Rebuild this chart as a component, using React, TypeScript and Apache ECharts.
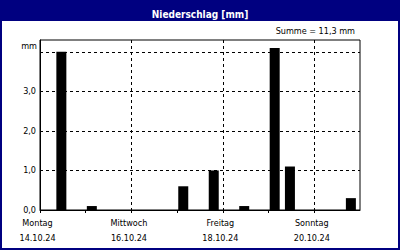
import React, { useEffect, useRef } from "react";
import * as echarts from "echarts";

// 8-hour slots, 3 per day, 14.10.24 – 20.10.24
const slots: string[] = [
  "14.10. 00-08", "14.10. 08-16", "14.10. 16-24",
  "15.10. 00-08", "15.10. 08-16", "15.10. 16-24",
  "16.10. 00-08", "16.10. 08-16", "16.10. 16-24",
  "17.10. 00-08", "17.10. 08-16", "17.10. 16-24",
  "18.10. 00-08", "18.10. 08-16", "18.10. 16-24",
  "19.10. 00-08", "19.10. 08-16", "19.10. 16-24",
  "20.10. 00-08", "20.10. 08-16", "20.10. 16-24",
];
const precipitation: (number | null)[] = [
  0, 4.0, 0,
  0.1, 0, 0,
  0, 0, 0,
  0.6, 0, 1.0,
  0, 0.1, 0,
  4.1, 1.1, 0,
  0, 0, 0.3,
];
const dayNames: string[] = ["Montag", "Mittwoch", "Freitag", "Sonntag"];
const dayDates: string[] = ["14.10.24", "16.10.24", "18.10.24", "20.10.24"];
const yTicks: string[] = ["0,0", "1,0", "2,0", "3,0"];
const totalLabel = "Summe = 11,3 mm";
const titleText = "Niederschlag [mm]";
const unitLabel = "mm";

const FONT = "'DejaVu Sans Condensed', 'DejaVu Sans', sans-serif";

export default function App() {
  const ref = useRef<HTMLDivElement>(null);
  useEffect(() => {
    if (!ref.current) return;
    const chart = echarts.init(ref.current, undefined, { renderer: "svg" });
    chart.setOption({
      animation: false,
      backgroundColor: "#fff",
      textStyle: { fontFamily: FONT },
      title: {
        text: titleText,
        left: "center",
        top: 4,
        textStyle: { color: "#fff", fontSize: 10, fontWeight: "bold", fontFamily: FONT },
      },
      graphic: [
        { type: "rect", shape: { x: 0, y: 0, width: 400, height: 21 }, style: { fill: "#000080" }, z: -1 },
        { type: "rect", shape: { x: 1, y: 1, width: 398, height: 248 }, style: { fill: "none", stroke: "#000080", lineWidth: 2 }, z: 10 },
        { type: "text", x: 355, y: 31, style: { text: totalLabel, textAlign: "right", textVerticalAlign: "middle", fontSize: 9, fontFamily: FONT, fill: "#000" } },
        { type: "text", x: 37, y: 46, style: { text: unitLabel, textAlign: "right", textVerticalAlign: "middle", fontSize: 9, fontFamily: FONT, fill: "#000" } },
        { type: "rect", z: 20, shape: { x: 40, y: 40, width: 320, height: 170 }, style: { fill: "none", stroke: "#000", lineWidth: 1 } },
      ],
      grid: { left: 40, right: 40, top: 40, bottom: 40, show: false },
      xAxis: [
        {
          type: "category",
          data: slots,
          boundaryGap: true,
          show: false,
        },
        {
          type: "value",
          min: 0,
          max: 21,
          interval: 3,
          position: "bottom",
          axisLine: { show: true, lineStyle: { color: "#000", width: 1 } },
          axisTick: { show: true, length: 3, lineStyle: { color: "#000" } },
          splitLine: { show: false },
          axisLabel: {
            margin: 5,
            color: "#000",
            fontSize: 9,
            lineHeight: 15,
            fontFamily: FONT,
            padding: [0, 5, 0, 0],
            showMaxLabel: false,
            formatter: (v: number) => {
              if (v % 6 !== 0 || v >= 21) return "";
              const i = v / 6;
              return dayNames[i] + "\n" + dayDates[i];
            },
          },
        },
        {
          type: "value",
          min: 0,
          max: 21,
          interval: 6,
          position: "bottom",
          axisLine: { show: false },
          axisTick: { show: false },
          axisLabel: { show: false },
          splitLine: { show: true, showMinLine: false, showMaxLine: false, lineStyle: { color: "#000", type: [3, 3], width: 1 } },
        },
      ],
      yAxis: {
        type: "value",
        min: 0,
        max: 4.3,
        interval: 1,
        axisLine: { show: true, lineStyle: { color: "#000" } },
        axisTick: { show: false },
        axisLabel: {
          margin: 4,
          color: "#000",
          fontSize: 9,
          fontFamily: FONT,
          showMaxLabel: false,
          formatter: (v: number) => (v < 4 ? yTicks[Math.round(v)] : ""),
        },
        splitLine: { show: true, showMinLine: false, showMaxLine: false, lineStyle: { color: "#000", type: [3, 3], width: 1 } },
      },
      series: [
        {
          type: "bar",
          xAxisIndex: 0,
          data: precipitation,
          barWidth: 10,
          barGap: 0,
          itemStyle: { color: "#000" },
        },
        {
          type: "bar",
          xAxisIndex: 0,
          data: slots.map(() => null),
          barWidth: 3,
          barGap: 0,
          itemStyle: { color: "transparent" },
        },
      ],
    });
    return () => chart.dispose();
  }, []);
  return <div ref={ref} style={{ width: 400, height: 250, position: "absolute", left: 0, top: 0 }} />;
}
